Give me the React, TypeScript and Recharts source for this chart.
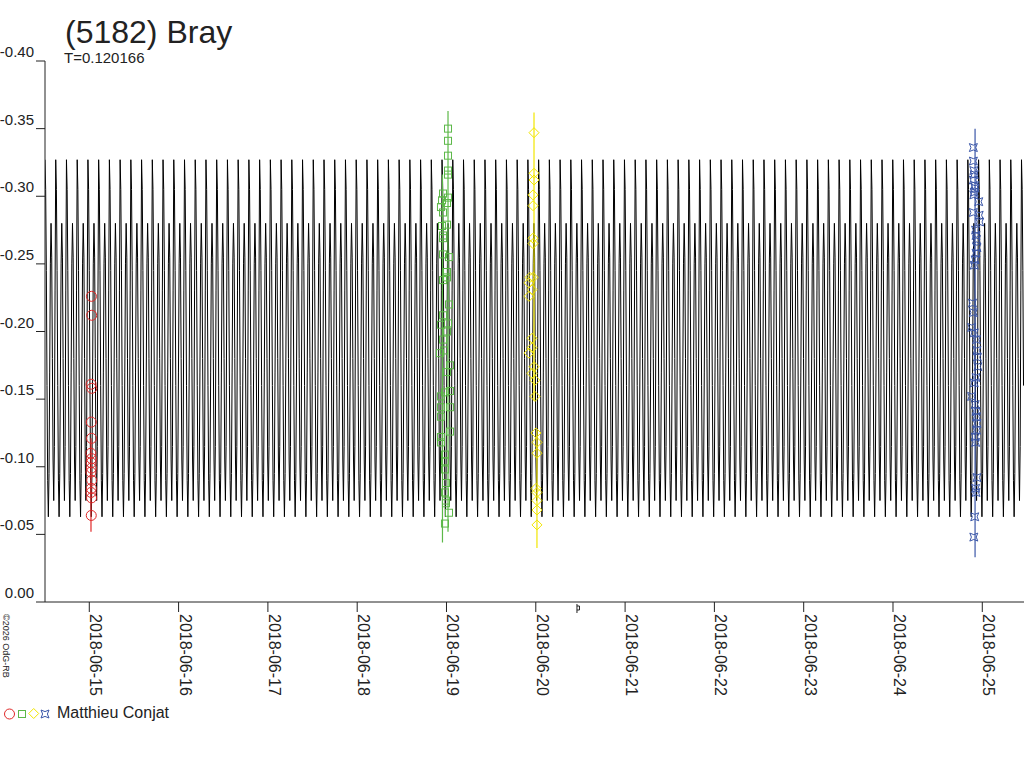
import { ComposedChart, Line, Scatter, XAxis, YAxis, ReferenceLine, ReferenceDot } from "recharts";

// x values are days since 2018-06-15 00:00, y values are relative magnitudes
const dateLabels = [
  "2018-06-15", "2018-06-16", "2018-06-17", "2018-06-18", "2018-06-19", "2018-06-20",
  "2018-06-21", "2018-06-22", "2018-06-23", "2018-06-24", "2018-06-25",
];
const magTicks = [-0.4, -0.35, -0.3, -0.25, -0.2, -0.15, -0.1, -0.05, 0];

const period = 0.120166;
const dayRange = [-0.496, 10.467];
// one rotation of the model light curve
const phaseShape = [
  -0.327, -0.305, -0.245, -0.16, -0.09, -0.063, -0.095, -0.17,
  -0.25, -0.28, -0.255, -0.18, -0.105, -0.075, -0.115, -0.23,
];

const redTime = [0.024, 0.027, 0.02, 0.028, 0.022, 0.025, 0.018, 0.026, 0.021, 0.024, 0.019, 0.027, 0.023, 0.02, 0.025, 0.022];
const redMag = [-0.226, -0.212, -0.161, -0.158, -0.133, -0.121, -0.11, -0.106, -0.103, -0.099, -0.096, -0.09, -0.084, -0.081, -0.077, -0.064];

const greenTime = [
  4.017, 4.017, 4.017, 4.017, 4.017, 3.961, 4.017, 3.95, 4.006, 3.938,
  3.961, 4.006, 3.95, 3.961, 3.961, 3.961, 4.028, 4.006, 4.006, 3.961,
  4.028, 3.961, 3.938, 4.017, 4.006, 3.961, 3.927, 3.972, 4.039, 4.006,
  3.983, 4.039, 3.938, 3.938, 4.039, 3.938, 4.039, 3.938, 3.938, 3.983,
  3.983, 3.983, 3.994, 3.983, 3.994, 3.994, 4.028, 3.983,
];
const greenMag = [
  -0.35, -0.341, -0.33, -0.319, -0.316, -0.302, -0.299, -0.297, -0.295, -0.292,
  -0.288, -0.279, -0.278, -0.271, -0.269, -0.257, -0.255, -0.244, -0.24, -0.238,
  -0.22, -0.212, -0.205, -0.206, -0.2, -0.194, -0.184, -0.186, -0.175, -0.17,
  -0.155, -0.156, -0.152, -0.144, -0.144, -0.137, -0.126, -0.122, -0.118, -0.109,
  -0.104, -0.098, -0.088, -0.081, -0.075, -0.073, -0.066, -0.058,
];

const yellowTime = [
  4.98, 4.98, 4.98, 4.969, 4.969, 4.969, 4.969, 4.935, 4.969, 4.924,
  4.958, 4.924, 4.958, 4.958, 4.924, 4.98, 4.958, 4.991, 4.991, 5.002,
  5.013, 5.013, 5.002, 5.013, 5.013, 5.013, 5.013,
];
const yellowMag = [
  -0.347, -0.317, -0.312, -0.301, -0.293, -0.269, -0.265, -0.24, -0.24, -0.236,
  -0.231, -0.226, -0.195, -0.188, -0.184, -0.174, -0.169, -0.164, -0.152, -0.125,
  -0.118, -0.11, -0.084, -0.081, -0.075, -0.068, -0.057,
];

const blueTime = [
  9.9, 9.9, 9.905, 9.91, 9.9, 9.915, 9.92, 9.91, 9.905, 9.96,
  9.9, 9.965, 9.97, 9.925, 9.93, 9.935, 9.94, 9.93, 9.92, 9.91,
  9.89, 9.9, 9.88, 9.91, 9.935, 9.94, 9.945, 9.95, 9.93, 9.91,
  9.88, 9.92, 9.93, 9.935, 9.94, 9.935, 9.92, 9.925, 9.94, 9.925,
  9.93, 9.915, 9.905,
];
const blueMag = [
  -0.336, -0.326, -0.319, -0.316, -0.312, -0.308, -0.306, -0.303, -0.301, -0.296,
  -0.288, -0.286, -0.281, -0.275, -0.271, -0.268, -0.262, -0.258, -0.253, -0.249,
  -0.221, -0.214, -0.203, -0.199, -0.194, -0.186, -0.181, -0.174, -0.166, -0.162,
  -0.152, -0.146, -0.141, -0.137, -0.132, -0.127, -0.122, -0.118, -0.092, -0.084,
  -0.081, -0.063, -0.048,
];

// vertical session bars: [day, top, bottom]
const sessionBars = [
  { day: 0.019, top: -0.121, bottom: -0.052, color: "#e02828" },
  { day: 4.017, top: -0.363, bottom: -0.052, color: "#5cb848" },
  { day: 3.955, top: -0.316, bottom: -0.044, color: "#5cb848" },
  { day: 4.98, top: -0.362, bottom: -0.149, color: "#f2e600" },
  { day: 5.013, top: -0.127, bottom: -0.04, color: "#f2e600" },
  { day: 9.919, top: -0.35, bottom: -0.033, color: "#3a56a8" },
];
const epochMark = 5.461;

const font = "'Liberation Sans', Arial, sans-serif";
const ink = "#222";

const zip = (t: number[], v: number[]) => t.map((d, i) => ({ t: d, v: v[i] }));

const curve: { t: number; v: number }[] = [];
{
  const step = period / phaseShape.length;
  for (let k = 0; dayRange[0] + k * step <= dayRange[1]; k++) {
    curve.push({ t: dayRange[0] + k * step, v: phaseShape[k % phaseShape.length] });
  }
}

const circleShape = (p: any) => <circle cx={p.cx} cy={p.cy} r={5} fill="none" stroke="#e02828" />;
const squareShape = (p: any) => <rect x={p.cx - 3.5} y={p.cy - 3.5} width={7} height={7} fill="none" stroke="#5cb848" />;
const diamondShape = (p: any) => (
  <path d={`M${p.cx},${p.cy - 5}L${p.cx + 5},${p.cy}L${p.cx},${p.cy + 5}L${p.cx - 5},${p.cy}Z`} fill="none" stroke="#f2e600" />
);
const starPath = (x: number, y: number, s: number) =>
  `M${x - s},${y - s}L${x},${y - s * 0.6}L${x + s},${y - s}L${x + s * 0.6},${y}L${x + s},${y + s}L${x},${y + s * 0.6}L${x - s},${y + s}L${x - s * 0.6},${y}Z`;
const starShape = (p: any) => <path d={starPath(p.cx, p.cy, 4)} fill="none" stroke="#3a56a8" />;

const YTick = ({ x, y, payload }: any) => (
  <text x={x} y={y - 4} textAnchor="end" fontSize={15} fontFamily={font} fill={ink}>
    {Number(payload.value).toFixed(2)}
  </text>
);

const XTick = ({ x, y, payload }: any) => (
  <text x={x + 1} y={y} transform={`rotate(90 ${x + 1} ${y})`} textAnchor="start" fontSize={16} fontFamily={font} fill={ink}>
    {dateLabels[payload.value]}
  </text>
);

const epochShape = (p: any) => (
  <path d={`M${p.cx},${p.cy + 2}V${p.cy + 11}M${p.cx},${p.cy + 4}h2.5v4h-2.5`} fill="none" stroke={ink} />
);

export default function App() {
  return (
    <div style={{ position: "fixed", left: 0, top: 0, width: 1024, height: 768, background: "#fff" }}>
      <ComposedChart width={1024} height={768} margin={{ top: 61, right: 0, bottom: 66, left: 0 }}>
        <XAxis
          dataKey="t"
          type="number"
          domain={dayRange}
          allowDataOverflow
          ticks={dateLabels.map((_, i) => i)}
          tick={<XTick />}
          tickSize={10}
          height={100}
          stroke={ink}
          interval={0}
        />
        <YAxis
          type="number"
          reversed
          domain={[-0.4, 0]}
          ticks={magTicks}
          tick={<YTick />}
          tickSize={9}
          width={45}
          stroke={ink}
          interval={0}
        />
        <Line data={curve} dataKey="v" type="linear" stroke="#000" strokeWidth={1} dot={false} isAnimationActive={false} />
        {sessionBars.map((b, i) => (
          <ReferenceLine
            key={i}
            segment={[{ x: b.day, y: b.top }, { x: b.day, y: b.bottom }]}
            stroke={b.color}
            strokeWidth={1.2}
            ifOverflow="visible"
          />
        ))}
        <Scatter data={zip(redTime, redMag)} dataKey="v" shape={circleShape} isAnimationActive={false} />
        <Scatter data={zip(greenTime, greenMag)} dataKey="v" shape={squareShape} isAnimationActive={false} />
        <Scatter data={zip(yellowTime, yellowMag)} dataKey="v" shape={diamondShape} isAnimationActive={false} />
        <Scatter data={zip(blueTime, blueMag)} dataKey="v" shape={starShape} isAnimationActive={false} />
        <ReferenceDot x={epochMark} y={0} shape={epochShape} ifOverflow="visible" />
      </ComposedChart>
      <svg width={1024} height={768} style={{ position: "absolute", left: 0, top: 0, pointerEvents: "none" }}>
        <text x={65} y={43} fontSize={32} fontFamily={font} fill={ink}>(5182) Bray</text>
        <text x={64} y={63} fontSize={15} fontFamily={font} fill={ink}>T=0.120166</text>
        <text x={3} y={614} transform="rotate(90 3 614)" fontSize={9} fontFamily={font} fill={ink}>©2026 OdG-RB</text>
        <circle cx={9.5} cy={714} r={5} fill="none" stroke="#e02828" />
        <rect x={18.5} y={710.5} width={7} height={7} fill="none" stroke="#5cb848" />
        <path d="M33.7,708.5L38.7,713.5L33.7,718.5L28.7,713.5Z" fill="none" stroke="#f2e600" />
        <path d={starPath(45, 714, 4)} fill="none" stroke="#3a56a8" />
        <text x={57} y={718} fontSize={16} fontFamily={font} fill={ink}>Matthieu Conjat</text>
      </svg>
    </div>
  );
}
